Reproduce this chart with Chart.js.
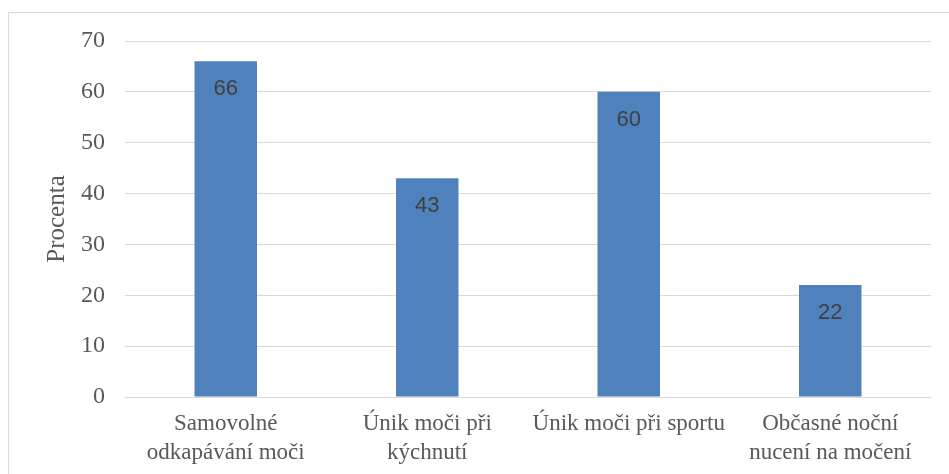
<!DOCTYPE html>
<html>
<head>
<meta charset="utf-8">
<script src="https://cdn.jsdelivr.net/npm/chart.js@4.4.1/dist/chart.umd.min.js"></script>
<style>
  html, body { margin: 0; padding: 0; background: #fff; }
  #wrap { width: 949px; height: 474px; position: relative; }
</style>
</head>
<body>
<div id="wrap"><canvas id="symptom-chart"></canvas></div>
<script>
// kategorie a hodnoty (%)
const categories = [
    ['Samovolné', 'odkapávání moči'],
    ['Únik moči při', 'kýchnutí'],
    'Únik moči při sportu',
    ['Občasné noční', 'nucení na močení']
];
const percentValues = [66, 43, 60, 22];
const yTicks = [0, 10, 20, 30, 40, 50, 60, 70];

const gridColor = '#d9d9d9';
const textColor = '#595959';

// hodnoty uvnitř sloupců (bez datalabels pluginu)
const barValueLabels = {
    id: 'barValueLabels',
    afterDatasetsDraw(chart) {
        const ctx = chart.ctx;
        const meta = chart.getDatasetMeta(0);
        ctx.save();
        ctx.font = '22px "Liberation Sans", Arial, sans-serif';
        ctx.fillStyle = '#404040';
        ctx.textAlign = 'center';
        ctx.textBaseline = 'middle';
        meta.data.forEach((bar, i) => {
            ctx.fillText(String(percentValues[i]), bar.x, bar.y + 28);
        });
        ctx.restore();
    }
};

// rámeček kolem grafu
const chartFrame = {
    id: 'chartFrame',
    beforeDraw(chart) {
        const ctx = chart.ctx;
        ctx.save();
        ctx.strokeStyle = gridColor;
        ctx.lineWidth = 1;
        ctx.strokeRect(8.5, 12.5, chart.width + 20, chart.height + 20);
        ctx.restore();
    }
};

const ctx = document.getElementById('symptom-chart').getContext('2d');
const myChart = new Chart(ctx, {
    type: 'bar',
    data: {
        labels: categories,
        datasets: [{
            label: 'Procenta',
            data: percentValues,
            backgroundColor: '#4f81bd',
            borderWidth: 0,
            barPercentage: 0.31,
            categoryPercentage: 1
        }]
    },
    options: {
        responsive: true,
        maintainAspectRatio: false,
        animation: false,
        layout: {
            padding: { left: 0, right: 18, top: 41, bottom: 0 }
        },
        plugins: {
            legend: { display: false },
            tooltip: { enabled: false }
        },
        scales: {
            x: {
                grid: { display: false, drawTicks: false },
                border: { display: false },
                ticks: {
                    color: textColor,
                    padding: 12,
                    maxRotation: 0,
                    autoSkip: false,
                    font: { family: '"Liberation Serif", "Times New Roman", serif', size: 23, lineHeight: 1.27 }
                },
                afterFit(scale) { scale.height = 77; }
            },
            y: {
                min: 0,
                max: 70,
                afterBuildTicks(scale) {
                    scale.ticks = yTicks.map(v => ({ value: v }));
                },
                grid: { color: gridColor, lineWidth: 1, drawTicks: false },
                border: { display: false },
                ticks: {
                    color: textColor,
                    padding: 20,
                    font: { family: '"Liberation Serif", "Times New Roman", serif', size: 24 }
                },
                title: {
                    display: true,
                    text: 'Procenta',
                    color: textColor,
                    padding: { top: 42, bottom: 0 },
                    font: { family: '"Liberation Serif", "Times New Roman", serif', size: 25, lineHeight: 1.2 }
                },
                afterFit(scale) { scale.width = 125; }
            }
        }
    },
    plugins: [chartFrame, barValueLabels]
});
</script>
</body>
</html>
